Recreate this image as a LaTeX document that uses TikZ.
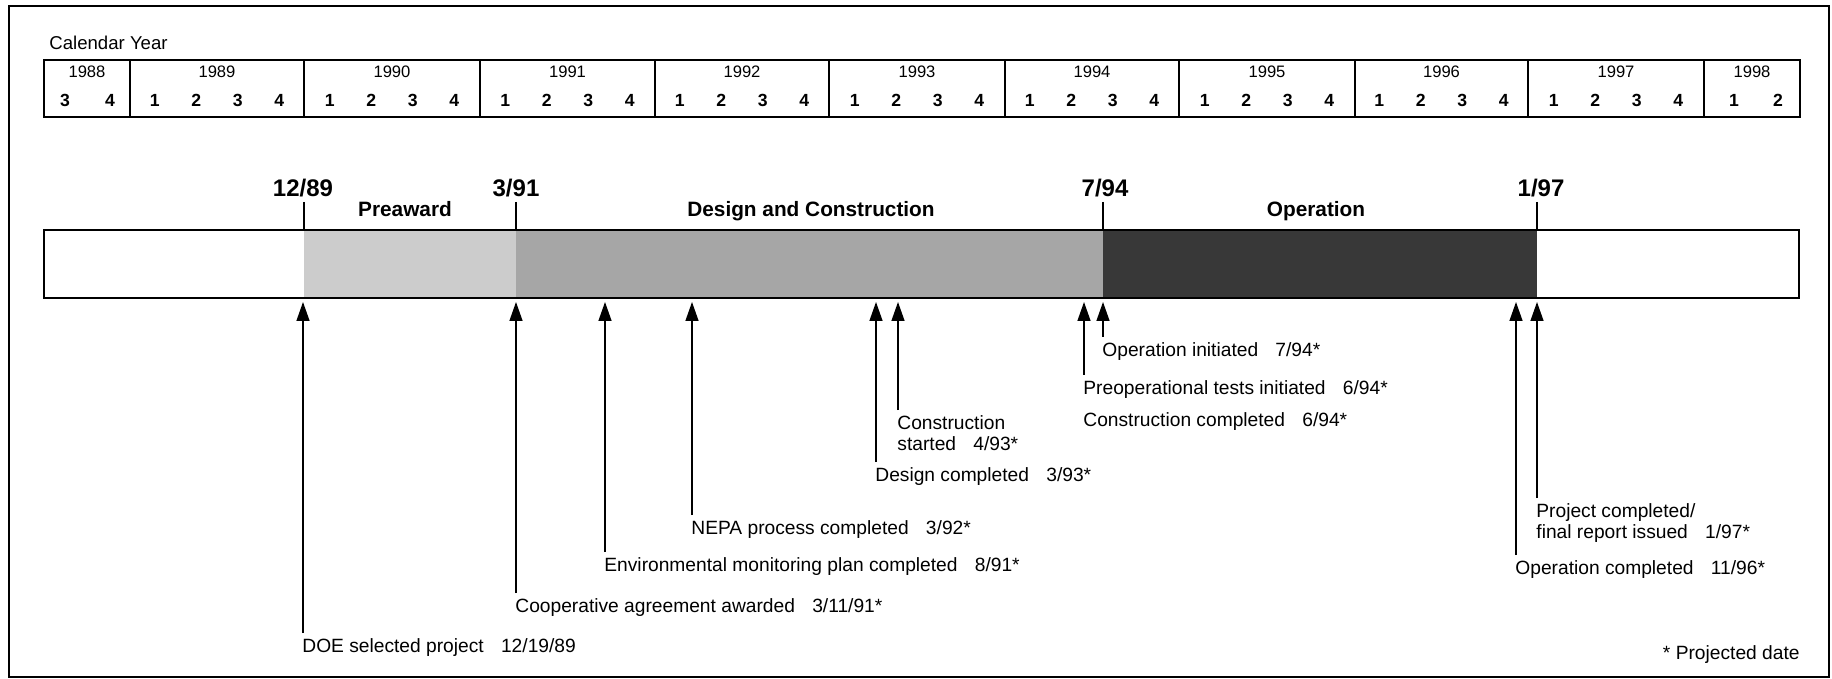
\documentclass[tikz,border=0pt]{standalone}
\usepackage{fontspec}
\setmainfont{Liberation Sans}
\usetikzlibrary{arrows.meta}
\definecolor{shadeA}{gray}{0.80}
\definecolor{shadeB}{gray}{0.65}
\definecolor{shadeC}{gray}{0.22}
\newcommand{\evgap}{\hspace{0.9em}}
\begin{document}
\begin{tikzpicture}[x=0.5pt,y=-0.5pt,
  framebox/.style={line width=1pt},
  tablebox/.style={line width=0.9pt},
  divider/.style={line width=0.7pt},
  barline/.style={line width=1.2pt},
  ticklin/.style={line width=0.6pt},
  arr/.style={line width=0.7pt,-{Triangle[length=9.5pt,width=6.5pt]}},
  callab/.style={anchor=base west,inner sep=0pt,font=\fontsize{9.3}{11}\selectfont},
  yearlab/.style={anchor=base,inner sep=0pt,font=\fontsize{8.3}{10}\selectfont},
  qlab/.style={anchor=base,inner sep=0pt,font=\fontsize{8.8}{10}\selectfont\bfseries},
  datelab/.style={anchor=base,inner sep=2pt,font=\fontsize{12}{14}\selectfont\bfseries},
  phaselab/.style={anchor=base,inner sep=0pt,font=\fontsize{10.4}{12}\selectfont\bfseries},
  evlab/.style={anchor=north west,inner xsep=0pt,inner ysep=2.5pt,align=left,
    font=\fontsize{9.6}{10.5}\selectfont},
  notelab/.style={anchor=north east,inner xsep=0pt,inner ysep=0pt,
    font=\fontsize{9.6}{10.5}\selectfont}]
\useasboundingbox (0,0) rectangle (1832,679);
% outer frame
\draw[framebox] (9,6) rectangle (1829,677);
% calendar
\node[callab] (cal) at (49,50) {Calendar Year};
\draw[tablebox] (44,60) rectangle (1800,117);
\foreach \x in {130,304,480,655,829,1005,1179,1355,1528,1704}
  \draw[divider] (\x,60) -- (\x,117);
\node[yearlab] (y1988) at (87,78) {1988};
\node[qlab] (q19883) at (65,106.5) {3};
\node[qlab] (q19884) at (110,106.5) {4};
\foreach \c/\yr in {217/1989,392/1990,567.5/1991,742/1992,917/1993,1092/1994,1267/1995,1441.5/1996,1616/1997}{
  \node[yearlab] (y\yr) at (\c,78) {\yr};
  \foreach \q/\dx in {1/-62.25,2/-20.75,3/20.75,4/62.25}
    \node[qlab] (q\yr\q) at ({\c+(\dx)},106.5) {\q};
}
\node[yearlab] (y1998) at (1752,78) {1998};
\node[qlab] (q19981) at (1734,106.5) {1};
\node[qlab] (q19982) at (1778,106.5) {2};
% bar
\fill[shadeA] (304,230) rectangle (516,298);
\fill[shadeB] (516,230) rectangle (1103,298);
\fill[shadeC] (1103,230) rectangle (1537,298);
\draw[barline] (44,230) rectangle (1799,298);
% milestones on top
\coordinate (t1) at (304,230);
\coordinate (t2) at (516,230);
\coordinate (t3) at (1103,230);
\coordinate (t4) at (1537,230);
\node[datelab] (d1) at (303,197) {12/89};
\node[datelab] (d2) at (516,197) {3/91};
\node[datelab] (d3) at (1105,197) {7/94};
\node[datelab] (d4) at (1541,197) {1/97};
\draw[ticklin] (d1.south -| t1) -- (t1);
\draw[ticklin] (d2.south -| t2) -- (t2);
\draw[ticklin] (d3.south -| t3) -- (t3);
\draw[ticklin] (d4.south -| t4) -- (t4);
\node[phaselab] (ph1) at (405,217) {Preaward};
\node[phaselab] (ph2) at (811,217) {Design and Construction};
\node[phaselab] (ph3) at (1316,217) {Operation};
% arrow tips
\coordinate (tipDOE) at (303,302);
\coordinate (tipCoop) at (516,302);
\coordinate (tipEnv) at (605,302);
\coordinate (tipNEPA) at (692,302);
\coordinate (tipDes) at (876,302);
\coordinate (tipCon) at (898,302);
\coordinate (tipPre) at (1084,302);
\coordinate (tipOp) at (1103,302);
\coordinate (tipOpc) at (1516,302);
\coordinate (tipPro) at (1537,302);
% event labels
\node[evlab] (doe) at (302,633) {DOE selected project\evgap 12/19/89};
\node[evlab] (coop) at (515,593) {Cooperative agreement awarded\evgap 3/11/91*};
\node[evlab] (env) at (604,552) {Environmental monitoring plan completed\evgap 8/91*};
\node[evlab] (nepa) at (691,515) {NEPA process completed\evgap 3/92*};
\node[evlab] (des) at (875,462) {Design completed\evgap 3/93*};
\node[evlab] (con) at (897,410) {Construction\\started\evgap 4/93*};
\node[evlab] (pre) at (1083,375) {Preoperational tests initiated\evgap 6/94*};
\node[evlab] (conc) at (1083,407) {Construction completed\evgap 6/94*};
\node[evlab] (op) at (1102,337) {Operation initiated\evgap 7/94*};
\node[evlab] (opc) at (1515,555) {Operation completed\evgap 11/96*};
\node[evlab] (pro) at (1536,498) {Project completed/\\final report issued\evgap 1/97*};
\node[notelab] (note) at (1800,645) {* Projected date};
% connectors
\draw[arr] (doe.north west -| tipDOE) -- (tipDOE);
\draw[arr] (coop.north west -| tipCoop) -- (tipCoop);
\draw[arr] (env.north west -| tipEnv) -- (tipEnv);
\draw[arr] (nepa.north west -| tipNEPA) -- (tipNEPA);
\draw[arr] (des.north west -| tipDes) -- (tipDes);
\draw[arr] (con.north west -| tipCon) -- (tipCon);
\draw[arr] (pre.north west -| tipPre) -- (tipPre);
\draw[arr] (op.north west -| tipOp) -- (tipOp);
\draw[arr] (opc.north west -| tipOpc) -- (tipOpc);
\draw[arr] (pro.north west -| tipPro) -- (tipPro);
\end{tikzpicture}
\end{document}
